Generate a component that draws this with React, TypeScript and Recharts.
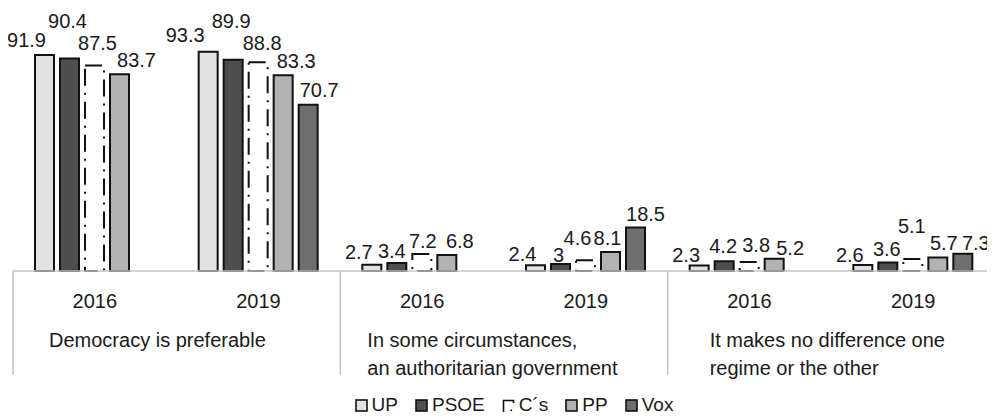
import { BarChart, Bar, XAxis, YAxis, Legend, LabelList } from "recharts"

const categories = [
  "Democracy is preferable",
  "In some circumstances,|an authoritarian government",
  "It makes no difference one|regime or the other",
]
const years = ["2016", "2019"]
const upValues = [91.9, 93.3, 2.7, 2.4, 2.3, 2.6]
const psoeValues = [90.4, 89.9, 3.4, 3, 4.2, 3.6]
const csValues = [87.5, 88.8, 7.2, 4.6, 3.8, 5.1]
const ppValues = [83.7, 83.3, 6.8, 8.1, 5.2, 5.7]
const voxValues = [null, 70.7, null, 18.5, null, 7.3]

const data = upValues.map((_, i) => ({
  year: years[i % 2],
  cat: categories[Math.floor(i / 2)],
  UP: upValues[i],
  PSOE: psoeValues[i],
  Cs: csValues[i],
  PP: ppValues[i],
  Vox: voxValues[i],
}))

const FONT = "'Liberation Sans', Arial, sans-serif"
const TEXT = "#1a1a1a"
const SEP = "#c4c4c4"
const DASH = "17 7 2 7"

const SERIES = [
  { key: "UP", label: "UP", fill: "#e2e2e4", dash: undefined, values: upValues },
  { key: "PSOE", label: "PSOE", fill: "#4e4e50", dash: undefined, values: psoeValues },
  { key: "Cs", label: "C´s", fill: "#ffffff", dash: DASH, values: csValues },
  { key: "PP", label: "PP", fill: "#b2b2b2", dash: undefined, values: ppValues },
  { key: "Vox", label: "Vox", fill: "#6e6e6e", dash: undefined, values: voxValues },
]

// label offsets (dx, dy) as in the original, which staggers crowded labels
const NUDGE: Record<string, [number, number][]> = {
  UP: [[-18, -2], [-23, -4], [-13, 0], [-13, 2], [-13, 2], [-13, 3]],
  PSOE: [[-2, -25], [-2, -26], [-5, 1], [-2, 4], [-1, -2], [-1, -1]],
  Cs: [[3, -9], [4, -6], [1, 0], [-8, -9], [7, -4], [-1, -20]],
  PP: [[17, -1], [13, -1], [13, -1], [-3, -1], [16, 2], [6, -2]],
  Vox: [[0, 0], [11, -2], [0, 0], [10, -1], [0, 0], [13, 2]],
}

// left indent of each category label inside its section
const CAT_INDENT = [36, 27, 42]

const makeLabel = (key: string, values: (number | null)[]) => (props: any) => {
  const { x, y, width, value } = props
  if (value == null) return null
  const idx = values.indexOf(Number(value))
  const [dx, dy] = NUDGE[key][idx] ?? [0, 0]
  return (
    <text
      x={Number(x) + Number(width) / 2 + dx}
      y={Number(y) - 6 + dy}
      textAnchor="middle"
      fontSize={20}
      fontFamily={FONT}
      fill={TEXT}
    >
      {value}
    </text>
  )
}

const YearTick = (props: any) => {
  const { x, y, payload } = props
  return (
    <text x={x} y={y + 29} textAnchor="middle" fontSize={20} fontFamily={FONT} fill={TEXT}>
      {payload.value}
    </text>
  )
}

const BAND = 982 / 6

const CatTick = (props: any) => {
  const { x, y, payload, index } = props
  if (index % 2 !== 0) return null
  const left = x - BAND / 2
  const tx = left + CAT_INDENT[index / 2]
  const lines = String(payload.value).split("|")
  return (
    <g>
      <line x1={left} x2={left} y1={y - 50} y2={y + 54} stroke={SEP} strokeWidth={1.5} />
      <text x={tx} y={y + 26} fontSize={20} fontFamily={FONT} fill={TEXT}>
        {lines.map((l, i) => (
          <tspan key={i} x={tx} dy={i === 0 ? 0 : 28}>
            {l}
          </tspan>
        ))}
      </text>
    </g>
  )
}

const LegendIcon = ({ fill, dash }: { fill: string; dash?: string }) => (
  <svg width={13} height={13} style={{ marginRight: 4 }}>
    {dash ? (
      <g stroke="#111" strokeWidth={1.6} fill="none">
        <path d="M1.5 13 V1.5 H11.5 V4" />
        <rect x={8.5} y={10.5} width={1.6} height={1.6} fill="#111" stroke="none" />
      </g>
    ) : (
      <rect x={1} y={1} width={11} height={11} fill={fill} stroke="#111" strokeWidth={1.6} />
    )}
  </svg>
)

const LegendContent = () => (
  <div
    style={{
      display: "flex",
      justifyContent: "center",
      gap: 17,
      paddingTop: 8,
      paddingLeft: 20,
      fontFamily: FONT,
      fontSize: 19,
      color: TEXT,
      lineHeight: "20px",
    }}
  >
    {SERIES.map((s) => (
      <span key={s.key} style={{ display: "flex", alignItems: "center" }}>
        <LegendIcon fill={s.fill} dash={s.dash} />
        {s.label}
      </span>
    ))}
  </div>
)

export default function App() {
  return (
    <div style={{ margin: "-8px 0 0 -8px", width: 995, height: 417 }}>
      <BarChart
        width={995}
        height={417}
        data={data}
        margin={{ top: 36, right: 0, left: 13, bottom: 0 }}
        barSize={19}
        barGap={6}
      >
        <YAxis hide domain={[0, 100]} />
        <XAxis
          xAxisId="a"
          dataKey="year"
          height={42}
          axisLine={{ stroke: SEP, strokeWidth: 1.5 }}
          tickLine={false}
          tick={<YearTick />}
          interval={0}
        />
        <XAxis
          xAxisId="b"
          dataKey="cat"
          height={74}
          axisLine={false}
          tickLine={false}
          tick={<CatTick />}
          interval={0}
        />
        <Legend verticalAlign="bottom" height={30} content={<LegendContent />} />
        {SERIES.map((s) => (
          <Bar
            key={s.key}
            xAxisId="a"
            dataKey={s.key}
            name={s.label}
            fill={s.fill}
            stroke="#111"
            strokeWidth={2}
            strokeDasharray={s.dash}
            isAnimationActive={false}
          >
            <LabelList dataKey={s.key} content={makeLabel(s.key, s.values)} />
          </Bar>
        ))}
      </BarChart>
    </div>
  )
}
